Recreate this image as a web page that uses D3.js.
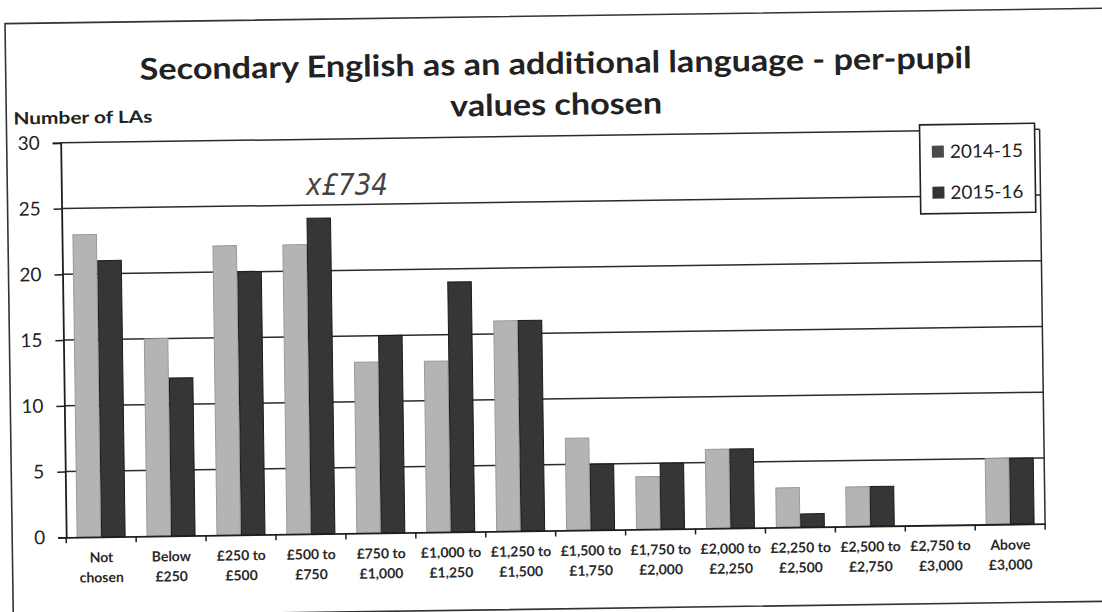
<!DOCTYPE html>
<html><head><meta charset="utf-8">
<script src="https://cdn.jsdelivr.net/npm/d3@7"></script>
<style>body{margin:0;background:#fff}svg{display:block}</style>
</head><body><svg id="c" width="1102" height="612"></svg>
<script>
const categories = ["Not chosen","Below £250","£250 to £500","£500 to £750","£750 to £1,000","£1,000 to £1,250","£1,250 to £1,500","£1,500 to £1,750","£1,750 to £2,000","£2,000 to £2,250","£2,250 to £2,500","£2,500 to £2,750","£2,750 to £3,000","Above £3,000"];
const seriesNames = ["2014-15","2015-16"];
const values2014 = [23,15,22,22,13,13,16,7,4,6,3,3,0,5];
const values2015 = [21,12,20,24,15,19,16,5,5,6,1,3,0,5];
const yTicks = [0,5,10,15,20,25,30];
const titleLines = ["Secondary English as an additional language - per-pupil","values chosen"];
const yTitle = "Number of LAs";
const note = "x£734";

const colors = {"2014-15":"#b4b4b4","2015-16":"#363636"};
const font = "Lato, 'Open Sans', sans-serif";
const svg = d3.select("#c");
const g = svg.append("g").attr("transform","rotate(-0.8 551 306)");

// outer frame
g.append("rect").attr("x",9).attr("y",16).attr("width",1110).attr("height",593)
 .attr("fill","none").attr("stroke","#333").attr("stroke-width",1.6);

const L=63,R=1042,T=136,B=530.5;
const x = d3.scaleBand().domain(categories).range([L,R]);
const x1 = d3.scaleBand().domain(seriesNames).range([0,48]).paddingInner(0.04);
const y = d3.scaleLinear().domain([0,30]).range([B,T]);
const off = (x.bandwidth()-48)/2;

// gridlines
g.append("g").selectAll("line").data(yTicks.filter(v=>v>0)).join("line")
 .attr("x1",L).attr("x2",R).attr("y1",d=>y(d)).attr("y2",d=>y(d))
 .attr("stroke","#2b2b2b").attr("stroke-width",1.5);
// right border of plot
g.append("line").attr("x1",R).attr("x2",R).attr("y1",T).attr("y2",B).attr("stroke","#2b2b2b").attr("stroke-width",1.5);

// bars
const rows = categories.map((c,i)=>({c, vals:[{s:"2014-15",v:values2014[i]},{s:"2015-16",v:values2015[i]}]}));
const grp = g.append("g").selectAll("g").data(rows).join("g")
 .attr("transform",d=>`translate(${x(d.c)+off},0)`);
grp.selectAll("rect").data(d=>d.vals).join("rect")
 .attr("x",d=>x1(d.s)).attr("width",x1.bandwidth())
 .attr("y",d=>y(d.v)).attr("height",d=>B-y(d.v))
 .attr("fill",d=>colors[d.s])
 .attr("stroke",d=>d.s==="2015-16"?"#1a1a1a":"#9a9a9a").attr("stroke-width",1);

// y axis
const ya = g.append("g").attr("transform",`translate(${L},0)`)
 .call(d3.axisLeft(y).tickValues(yTicks).tickSize(8).tickPadding(13));
ya.select(".domain").attr("stroke","#1e1e1e").attr("stroke-width",1.8);
ya.selectAll(".tick line").attr("stroke","#1e1e1e").attr("stroke-width",1.5);
ya.selectAll("text").attr("font-family",font).attr("font-size",19).attr("fill","#222");

// x axis
const xa = g.append("g").attr("transform",`translate(0,${B})`)
 .call(d3.axisBottom(x).tickSize(0).tickFormat(""));
xa.select(".domain").attr("stroke","#1e1e1e").attr("stroke-width",1.8);
g.append("g").selectAll("line").data(categories.concat([null])).join("line")
 .attr("x1",(d,i)=>d?x(d):R).attr("x2",(d,i)=>d?x(d):R)
 .attr("y1",B).attr("y2",B+6).attr("stroke","#1e1e1e").attr("stroke-width",1.5);
const xl = g.append("g").selectAll("text").data(categories).join("text")
 .attr("text-anchor","middle").attr("font-family",font).attr("font-weight","bold")
 .attr("font-size",14).attr("fill","#2a2a2a");
xl.each(function(d){
  const k=d.lastIndexOf(" ");
  const t=d3.select(this);
  t.append("tspan").attr("x",x(d)+x.bandwidth()/2).attr("y",556).text(d.slice(0,k));
  t.append("tspan").attr("x",x(d)+x.bandwidth()/2).attr("y",576).text(d.slice(k+1));
});

// title
g.append("text").attr("x",559).attr("y",74).attr("text-anchor","middle")
 .attr("font-family",font).attr("font-weight","bold").attr("font-size",30).attr("fill","#222")
 .attr("textLength",832).attr("lengthAdjust","spacingAndGlyphs").text(titleLines[0]);
g.append("text").attr("x",559).attr("y",115).attr("text-anchor","middle")
 .attr("font-family",font).attr("font-weight","bold").attr("font-size",30).attr("fill","#222")
 .attr("textLength",212).attr("lengthAdjust","spacingAndGlyphs").text(titleLines[1]);
g.append("text").attr("x",16).attr("y",117)
 .attr("font-family",font).attr("font-weight","bold").attr("font-size",17).attr("fill","#222")
 .attr("textLength",139).attr("lengthAdjust","spacingAndGlyphs").text(yTitle);

// legend
const lg = g.append("g");
lg.append("rect").attr("x",922).attr("y",130).attr("width",115).attr("height",89)
 .attr("fill","#fff").attr("stroke","#222").attr("stroke-width",1.6);
const li = lg.selectAll("g").data(seriesNames).join("g")
 .attr("transform",(d,i)=>`translate(934,${157+i*41})`);
li.append("rect").attr("x",0).attr("y",-6).attr("width",12).attr("height",12)
 .attr("fill",(d,i)=>i===0?"#4a4a4a":"#333");
li.append("text").attr("x",18).attr("y",6.5).attr("font-family",font).attr("font-size",18.5)
 .attr("fill","#222").attr("textLength",73).attr("lengthAdjust","spacingAndGlyphs").text(d=>d);

// handwritten note
svg.append("text").attr("x",306).attr("y",195).attr("font-family","'DejaVu Sans ExtraLight','DejaVu Sans',sans-serif")
 .attr("font-weight",200).attr("font-style","italic").attr("font-size",30).attr("fill","#444")
 .attr("textLength",82).attr("lengthAdjust","spacingAndGlyphs").text(note);
</script></body></html>
